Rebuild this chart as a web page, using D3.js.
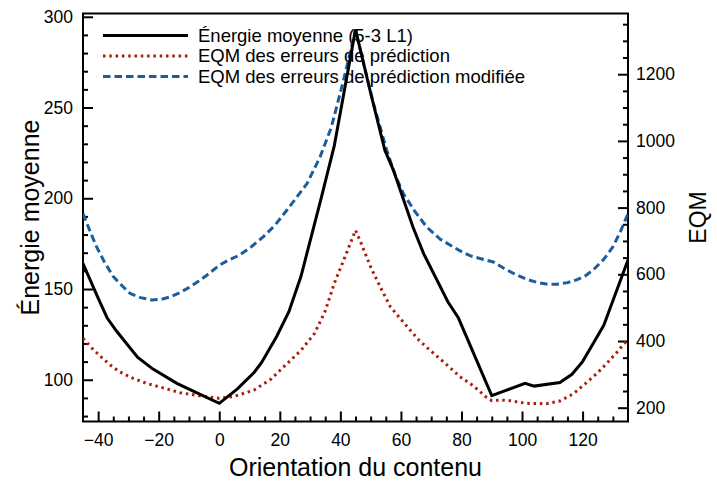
<!DOCTYPE html>
<html><head><meta charset="utf-8">
<script src="https://cdn.jsdelivr.net/npm/d3@7"></script>
<style>body{margin:0;background:#fff}svg{display:block}text{font-family:"Liberation Sans",Arial,Helvetica,sans-serif}</style>
</head><body><svg id="c" width="717" height="482"></svg>
<script>
// ---- data ----
const energyX = [-45,-40,-37,-34,-27,-22,-14,-7,0,6,11.5,14,19,23,27,33.5,38,45,50,54.7,57.5,64,67.5,75.5,79,90,101,104,112.5,116.5,120,123.5,127,135];
const energyY = [164,145,134,127,112.5,106,98,92.5,87,95,104,109.5,124,137.5,157,199,229,293,258,226.5,215.5,184,169.5,143,134,91.3,98,96.5,98.5,103,110,120,130,166];
const eqmX = [-45,-42,-39,-36,-33,-29,-24,-18,-13,-6,0,5,11.5,17,22.5,27,31.5,35,38,41,45,47,50,53,56.5,60,63,66,69.5,75,79.5,84,88,90,93,96,101.5,108,112.5,117,121,125,128,131.5,135];
const eqmY = [408,378,352,328,308,290,273,258,245,235,228,234,253,285,333,372,423,490,573,640,732,690,622,565,503,465,433,402,373,330,293,265,233,221,223,221,213,212,220,242,273,305,333,368,405];
const eqmModX = [-45,-42.5,-40.5,-38,-35,-32,-29.5,-26,-22.3,-19,-16.3,-13,-9.7,-7,-4,0,3,6.8,10.5,14.5,18.5,22.3,25.5,29,33.3,37,41,45,48,51,55.3,58,60.8,64.5,68.5,73,77.3,80,83,87,90.5,94,98.2,101.5,104.8,108,111.4,115,118,121,123.5,127,130,132.5,135];
const eqmModY = [782,725,682,638,593,565,543,530,523,525,532,545,562,578,598,627,642,658,682,712,748,792,830,872,952,1040,1180,1332,1220,1110,972,900,842,790,742,705,682,668,655,645,637,618,598,585,576,571,570,575,583,596,613,645,682,728,782];
const xTicks = [-40,-20,0,20,40,60,80,100,120];
const leftTicks = [100,150,200,250,300];
const rightTicks = [200,400,600,800,1000,1200];
const seriesNames = ["Énergie moyenne (5-3 L1)","EQM des erreurs de prédiction","EQM des erreurs de prédiction modifiée"];

// ---- layout ----
const L=83, R=628, T=13.5, B=421.5;
const svg = d3.select("#c");
const x = d3.scaleLinear().domain([-45,135]).range([L,R]);
const yL = d3.scaleLinear().domain([77,301.8]).range([B,T]);
const yR = d3.scaleLinear().domain([158.6,1382]).range([B,T]);

const red="#a81e0a", blue="#1b5e9c";
const fmt = d3.format("d");
const g = svg.append("g");
// x axis bottom
const xMinor = d3.range(-45,136,5).filter(v=>!xTicks.includes(v)&&v>-45&&v<135);
g.append("g").attr("transform",`translate(0,${B})`)
  .call(d3.axisBottom(x).tickValues(xTicks).tickSizeInner(-10).tickSizeOuter(0).tickPadding(12).tickFormat(fmt))
  .call(a=>a.select(".domain").remove());
g.append("g").attr("transform",`translate(0,${B})`)
  .call(d3.axisBottom(x).tickValues(xMinor).tickSizeInner(-5).tickSizeOuter(0).tickFormat(""))
  .call(a=>a.select(".domain").remove());
// left axis
const lMinor = d3.range(80,301,10).filter(v=>!leftTicks.includes(v));
g.append("g").attr("transform",`translate(${L},0)`)
  .call(d3.axisLeft(yL).tickValues(leftTicks).tickSizeInner(-10).tickSizeOuter(0).tickPadding(10).tickFormat(fmt))
  .call(a=>a.select(".domain").remove());
g.append("g").attr("transform",`translate(${L},0)`)
  .call(d3.axisLeft(yL).tickValues(lMinor).tickSizeInner(-5).tickSizeOuter(0).tickFormat(""))
  .call(a=>a.select(".domain").remove());
// right axis
const rMinor = d3.range(250,1351,50).filter(v=>!rightTicks.includes(v));
g.append("g").attr("transform",`translate(${R},0)`)
  .call(d3.axisRight(yR).tickValues(rightTicks).tickSizeInner(-10).tickSizeOuter(0).tickPadding(8).tickFormat(fmt))
  .call(a=>a.select(".domain").remove());
g.append("g").attr("transform",`translate(${R},0)`)
  .call(d3.axisRight(yR).tickValues(rMinor).tickSizeInner(-5).tickSizeOuter(0).tickFormat(""))
  .call(a=>a.select(".domain").remove());
g.selectAll(".tick line").attr("stroke","#000").attr("stroke-width",2);
g.selectAll(".tick text").attr("font-size",17.5).attr("fill","#000").style("font-family",'"Liberation Sans",Arial,sans-serif');

// frame
svg.append("rect").attr("x",L).attr("y",T).attr("width",R-L).attr("height",B-T)
  .attr("fill","none").attr("stroke","#000").attr("stroke-width",2);

// axis titles
svg.append("text").attr("x",(L+R)/2).attr("y",476).attr("text-anchor","middle").attr("font-size",25).text("Orientation du contenu");
svg.append("text").attr("transform",`translate(39,${(T+B)/2}) rotate(-90)`).attr("text-anchor","middle").attr("font-size",25).text("Énergie moyenne");
svg.append("text").attr("transform",`translate(706,${(T+B)/2}) rotate(-90)`).attr("text-anchor","middle").attr("font-size",23).text("EQM");

// legend
const styles = [
  {color:"#000", dash:null, w:3},
  {color:red, dash:"2.5,3.8", w:3},
  {color:blue, dash:"7.5,4", w:3}
];
const lg = svg.append("g");
seriesNames.forEach((n,i)=>{
  const yy = 35.5 + i*20.5;
  lg.append("line").attr("x1",103).attr("x2",188).attr("y1",yy).attr("y2",yy)
    .attr("stroke",styles[i].color).attr("stroke-width",styles[i].w).attr("stroke-dasharray",styles[i].dash);
  lg.append("text").attr("x",198).attr("y",yy+6.3).attr("font-size",18.5).text(n);
});

// curves
svg.append("clipPath").attr("id","clip").append("rect").attr("x",L).attr("y",T).attr("width",R-L).attr("height",B-T);
const cg = svg.append("g").attr("clip-path","url(#clip)");
const lineL = d3.line().x(d=>x(d[0])).y(d=>yL(d[1]));
const lineR = d3.line().x(d=>x(d[0])).y(d=>yR(d[1]));
cg.append("path").datum(eqmX.map((v,i)=>[v,eqmY[i]])).attr("d",lineR)
  .attr("fill","none").attr("stroke",red).attr("stroke-width",3).attr("stroke-dasharray",styles[1].dash);
cg.append("path").datum(eqmModX.map((v,i)=>[v,eqmModY[i]])).attr("d",lineR)
  .attr("fill","none").attr("stroke",blue).attr("stroke-width",3).attr("stroke-dasharray",styles[2].dash);
cg.append("path").datum(energyX.map((v,i)=>[v,energyY[i]])).attr("d",lineL)
  .attr("fill","none").attr("stroke","#000").attr("stroke-width",3).attr("stroke-linejoin","miter");
</script></body></html>
